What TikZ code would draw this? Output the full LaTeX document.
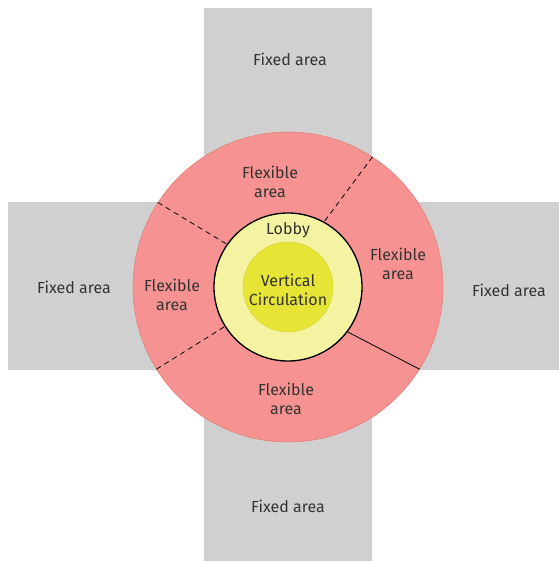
\documentclass[tikz,border=0pt]{standalone}
\usepackage{fontspec}
\setmainfont{Fira Sans}
\definecolor{fixedgray}{HTML}{D0D0D0}
\definecolor{flexred}{HTML}{F69392}
\definecolor{flexedge}{HTML}{E27D72}
\definecolor{lobbyyellow}{HTML}{F4F3A2}
\definecolor{coreyellow}{HTML}{E6E435}
\definecolor{coreedge}{HTML}{D8D53C}
\definecolor{txt}{HTML}{333333}
\tikzset{
  fixed/.style={fill=fixedgray},
  lbl/.style={text=txt, align=center, font=\fontsize{12}{14.5}\selectfont},
}
\begin{document}
\begin{tikzpicture}[x=0.75pt,y=-0.75pt]
\useasboundingbox (0,0) rectangle (559,562);

% fixed areas
\fill[fixed] (204,8) rectangle (372,561);
\fill[fixed] (8,202) rectangle (559,370);

% rings
\node[draw=flexedge,fill=flexred,circle,inner sep=0,minimum size=232.5pt] (flex) at (288,287){};
\node[draw,line width=1pt,fill=lobbyyellow,circle,inner sep=0,minimum size=111pt] (lobby) at (288,287){};
\node[draw=coreedge,fill=coreyellow,circle,inner sep=0,minimum size=67.5pt] (core) at (288,287){};
\node[lbl] (coretxt) at (288,290){Vertical\\Circulation};

% dividers
\draw[dash pattern=on 4pt off 3pt,line width=0.6pt] (flex.57) -- (lobby.61);
\draw[dash pattern=on 4pt off 3pt,line width=0.6pt] (flex.147) -- (lobby.145);
\draw[dash pattern=on 4pt off 3pt,line width=0.6pt] (flex.212) -- (lobby.212);
\draw[line width=0.6pt] (flex.-32) -- (lobby.-37);

\node[lbl] (fixedN) at (290,59){Fixed area};
\node[lbl] (fixedW) at (74,287){Fixed area};
\node[lbl] (fixedE) at (509,290){Fixed area};
\node[lbl] (fixedS) at (288,506){Fixed area};

\node[lbl] (flexN) at (270,182){Flexible\\area};
\node[lbl] (flexE) at (398,264){Flexible\\area};
\node[lbl] (flexW) at (172,295){Flexible\\area};
\node[lbl] (flexS) at (286,399){Flexible\\area};

\node[lbl] (lobbytxt) at (288,230){Lobby};
\end{tikzpicture}
\end{document}
